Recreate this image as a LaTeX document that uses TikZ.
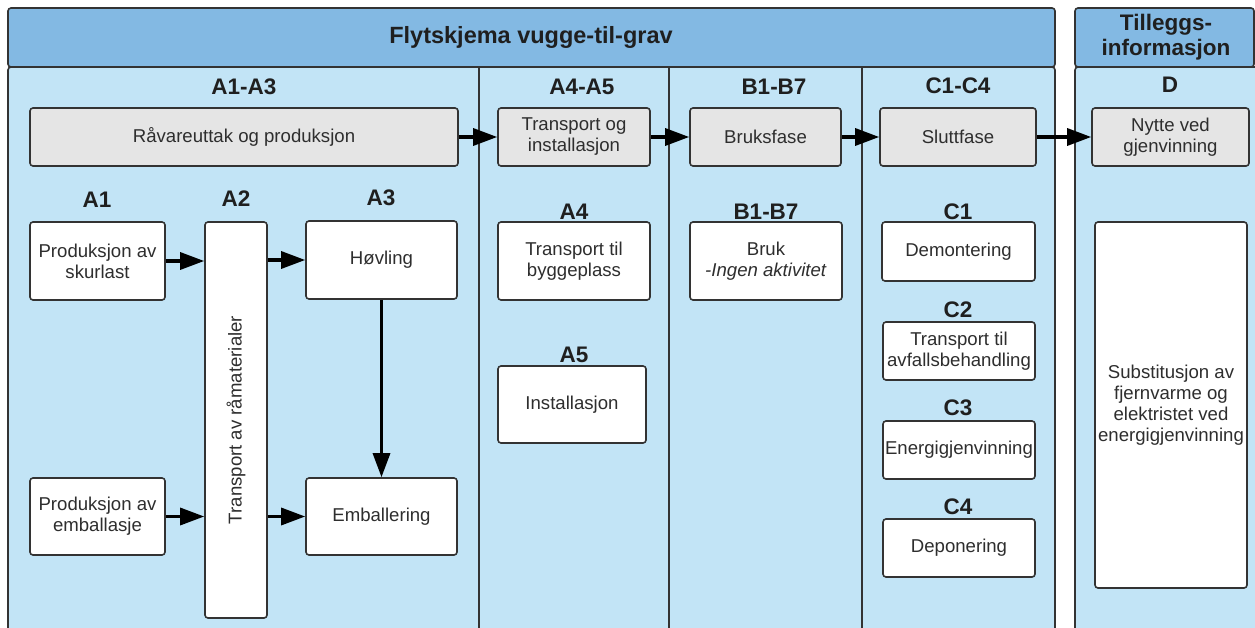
\documentclass[tikz,border=0pt]{standalone}
\usepackage{fontspec}
\setmainfont{Liberation Sans}
\usetikzlibrary{arrows.meta}

\definecolor{hdrblue}{HTML}{83B9E3}
\definecolor{panelblue}{HTML}{C2E4F6}
\definecolor{boxgray}{HTML}{E5E5E5}
\definecolor{edgegray}{HTML}{333333}

\begin{document}
\begin{tikzpicture}[x=1pt,y=-1pt,
    panel/.style={draw=edgegray,line width=1.6pt,rounded corners=3pt},
    box/.style={draw=edgegray,line width=1.6pt,rounded corners=3pt,fill=white,
      inner sep=0pt,align=center,text=black!82,font=\fontsize{18.6}{21}\selectfont},
    phasebox/.style={box,fill=boxgray},
    lbl/.style={text=black!88,align=center,font=\fontsize{22.5}{25}\selectfont\bfseries},
    flow/.style={line width=3.2pt,-{Triangle[length=24pt,width=17pt]}}]
			%%%%% FRAME %%%%%
			\useasboundingbox (0,0) rectangle (1255,628);
			\clip (0,0) rectangle (1255,628);
			\fill[white] (0,0) rectangle (1255,628);
			
			\draw[panel,fill=panelblue] (8,67) rectangle (1055,660);
			\draw[panel,fill=hdrblue] (8,8) rectangle (1055,67);
			\draw[panel,fill=panelblue] (1075,67) rectangle (1275,660);
			\draw[panel,fill=hdrblue] (1075,8) rectangle (1254,67);
			\draw[edgegray,line width=1.6pt] (479,67) -- (479,660);
			\draw[edgegray,line width=1.6pt] (669,67) -- (669,660);
			\draw[edgegray,line width=1.6pt] (862,67) -- (862,660);
			
			\node[lbl,font=\fontsize{23.5}{25}\selectfont\bfseries] (title) at (531,37) {Flytskjema vugge-til-grav};
			\node[lbl] (extra) at (1166,37) {Tilleggs-\\informasjon};
			
			%%%%% PHASES %%%%%
			\node[lbl] (hA13) at (244,87) {A1-A3};
			\node[lbl] (hA45) at (582,87) {A4-A5};
			\node[lbl] (hB17) at (774,87) {B1-B7};
			\node[lbl] (hC14) at (958,86) {C1-C4};
			\node[lbl] (hD) at (1170,85) {D};
			
			\node[phasebox,minimum width=428,minimum height=58] (raw) at (244,137) {Råvareuttak og produksjon};
			\node[phasebox,minimum width=152,minimum height=58] (inst) at (574,137) {Transport og\\installasjon};
			\node[phasebox,minimum width=151,minimum height=58] (use) at (765.5,137) {Bruksfase};
			\node[phasebox,minimum width=156,minimum height=58] (end) at (958,137) {Sluttfase};
			\node[phasebox,minimum width=157,minimum height=58] (gain) at (1170.5,137) {Nytte ved\\gjenvinning};
			
			\draw[flow] (raw.east) -- (inst.west);
			\draw[flow] (inst.east) -- (use.west);
			\draw[flow] (use.east) -- (end.west);
			\draw[flow] (end.east) -- (gain.west);
			
			%%%%% A1-A3 %%%%%
			\node[lbl] (lA1) at (97,200) {A1};
			\node[lbl] (lA2) at (236,199) {A2};
			\node[lbl] (lA3) at (381,198) {A3};
			
			\node[box,minimum width=135,minimum height=78] (saw) at (97.5,261) {Produksjon av\\skurlast};
			\node[box,minimum width=135,minimum height=77] (pack) at (97.5,516.5) {Produksjon av\\emballasje};
			\node[box,minimum width=62,minimum height=396,
			  label={[rotate=90,text=black!82,font=\fontsize{18.6}{21}\selectfont]center:Transport av råmaterialer}] (haul) at (236,420) {};
			\node[box,minimum width=151,minimum height=78] (plane) at (381.5,260) {Høvling};
			\node[box,minimum width=151,minimum height=77] (wrap) at (381.5,516.5) {Emballering};
			
			\draw[flow] (saw.east) -- (saw.east -| haul.west);
			\draw[flow] (plane.west -| haul.east) -- (plane.west);
			\draw[flow] (pack.east) -- (pack.east -| haul.west);
			\draw[flow] (wrap.west -| haul.east) -- (wrap.west);
			\draw[flow] (plane.south) -- (wrap.north);
			
			%%%%% A4-A5, B1-B7 %%%%%
			\node[lbl] (lA4) at (574,212) {A4};
			\node[box,minimum width=152,minimum height=78] (site) at (574,261) {Transport til\\byggeplass};
			\node[lbl] (lA5) at (574,355) {A5};
			\node[box,minimum width=148,minimum height=77] (mount) at (572,404.5) {Installasjon};
			
			\node[lbl] (lB) at (766,212) {B1-B7};
			\node[box,minimum width=152,minimum height=78] (idle) at (766,261) {Bruk\\\textit{-Ingen aktivitet}};
			
			%%%%% C1-C4 %%%%%
			\node[lbl] (lC1) at (958,212) {C1};
			\node[box,minimum width=153,minimum height=59] (dismantle) at (958.5,251.5) {Demontering};
			\node[lbl] (lC2) at (958,310) {C2};
			\node[box,minimum width=152,minimum height=58] (waste) at (959,351) {Transport til\\avfallsbehandling};
			\node[lbl] (lC3) at (958,408) {C3};
			\node[box,minimum width=152,minimum height=58] (burn) at (959,450) {Energigjenvinning};
			\node[lbl] (lC4) at (958,507) {C4};
			\node[box,minimum width=152,minimum height=58] (landfill) at (959,548) {Deponering};
			
			%%%%% D %%%%%
			\node[box,minimum width=152,minimum height=366] (subst) at (1171,405) {Substitusjon av\\fjernvarme og\\elektristet ved\\energigjenvinning};
			
			%%%%% END %%%%%
\end{tikzpicture}
\end{document}
